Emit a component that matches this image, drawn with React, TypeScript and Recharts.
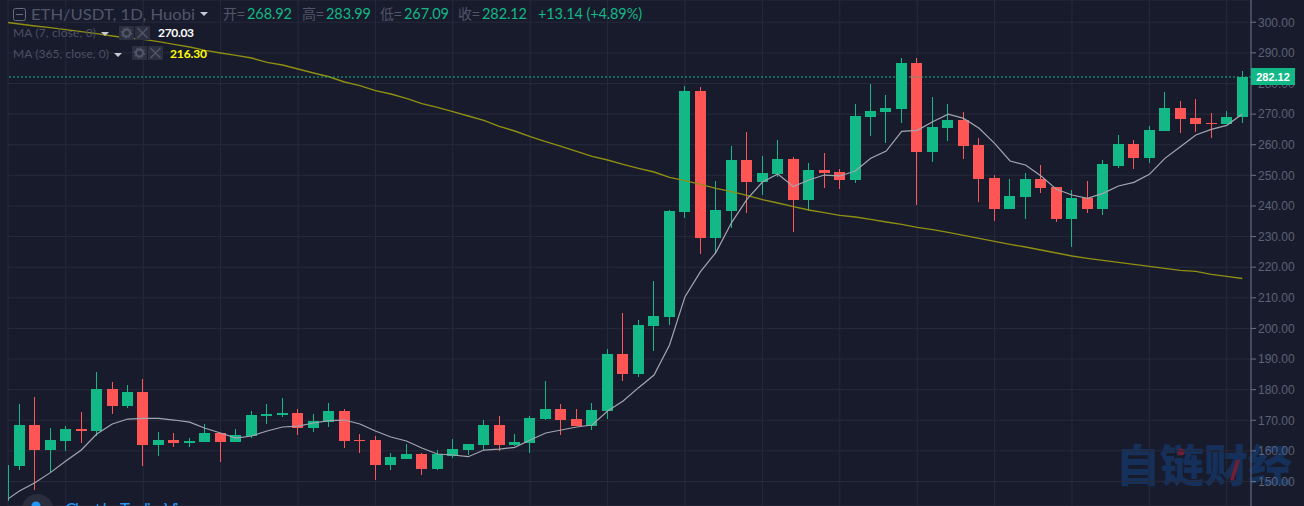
import React from "react";
import { ComposedChart, Bar, Line, XAxis, YAxis, CartesianGrid, ReferenceLine } from "recharts";

const openValues = [143.7,155.06,168.45,160.28,163.22,167.14,166.49,180.21,174.66,179.23,161.92,163.55,162.57,162.9,165.84,162.9,164.86,171.39,171.72,172.37,167.47,169.43,173.02,163.55,163.55,155.38,157.34,158.98,154.08,158.32,160.28,161.92,168.45,161.92,162.57,170.41,173.67,170.41,168.12,173.02,191.65,185.12,200.79,203.73,238.03,277.55,229.53,238.35,255.01,247.83,250.44,255.34,241.95,251.75,251.09,248.48,269.06,270.69,271.67,286.7,257.62,265.46,268.08,259.91,249.13,239,242.92,248.8,246.19,235.74,242.6,239,253.05,260.24,255.66,264.48,272,268.73,267.1,266.77,268.92];
const highValues = [155.4,175.3,177.6,167.47,168.12,172.7,185.76,182.5,181.5,183.47,166.16,165.84,164.2,168.78,165.84,167.14,173.02,175.3,177.27,173.67,172.04,175.63,173.67,165.5,164.86,159.3,162.24,159.3,160.28,163.88,162.24,170.08,171.39,165.51,171.39,182.82,175.31,173.67,175.63,193.28,205.04,202.75,215.49,238.68,279.18,278.86,248.15,259.59,264.16,256.32,261.55,255.99,254.03,257.3,252.07,273.3,279.84,276.24,288.33,288.33,275.59,273.3,270.69,262.2,250.11,248.8,250.76,253.38,246.19,245.21,248.15,255,263.18,261.54,266.12,277.22,274.28,274.93,270.36,271.02,283.99];
const lowValues = [143.7,153.75,147.2,153.1,159.96,162.57,164.86,172.04,174,155.06,158.32,161.26,161.26,162.9,156.36,162.9,164.2,168.78,171.06,165.18,166.16,167.8,160.94,159.3,150.48,153.75,157.34,152.12,153.75,157.67,158.65,160.28,159.96,161.59,159.3,170.08,165.18,168.12,166.82,170.41,182.83,184.13,192.63,201.12,236.07,224.31,224.31,232.8,237.7,243.58,249.46,231.5,238.35,245.87,245.54,247.5,262.85,260.57,267.1,240.31,254.36,261.22,255.34,241.29,235.08,239,235.74,244.23,234.76,226.59,237.7,237.04,252.4,252.07,254,264.48,263.83,264.16,262.2,266.77,267.09];
const closeValues = [155.4,168.45,160.28,163.55,167.14,166.49,180.21,174.66,179.23,161.92,163.55,162.57,163.22,165.84,162.9,165.18,171.7,172.04,172.37,167.47,169.75,173.02,163.22,163.22,155.38,157.99,158.98,154.08,158.98,160.61,162.24,168.45,161.92,162.9,170.73,173.67,170.08,168.12,173.35,191.65,185.12,201.12,204.06,238.36,277.55,229.53,238.68,255.01,247.83,250.77,255.34,241.95,251.75,250.77,248.48,269.38,271.02,272,286.7,257.62,265.79,268.08,259.58,248.8,239,243.25,248.8,245.86,235.74,242.6,239,253.7,260.24,255.66,264.81,272,268.4,266.77,266.77,269.06,282.12];
const ma7Values = [143.4,146.9,149.6,152.9,156.7,160.3,165.5,168.8,170.4,170.6,170.6,170.08,169.4,167.4,165.84,164.2,164.86,166.5,167.8,168.12,169.1,169.86,170.08,168.8,166.5,164.53,163.22,160.94,158.98,158.65,158.1,160.28,160.6,161.15,163.55,165.84,166.82,167.8,168.45,173,176.3,180.65,184.79,194.59,210.37,218.54,224.86,234.5,242.17,247.83,250.44,246.3,248.48,250.1,249.8,251.4,255.56,257.95,264.37,264.7,267.53,270,268.6,265.35,260.45,254.68,253.38,249.8,245.43,243.58,242.5,244.12,246.52,247.7,250.33,255.55,259.36,263.18,265.03,266.33,270.03];
const ma365Values = [300.1,299.43,298.78,298.23,297.58,296.93,296.27,295.51,294.86,294.42,293.66,292.79,291.92,290.83,289.96,289.2,288.33,286.91,286.04,284.73,283.43,282.2,280.49,279.29,277.66,276.57,275.16,273.41,272.2,270.8,269.38,267.97,266.01,264.48,262.63,261,259.48,257.84,256.21,255,253.6,252.29,251.09,249.35,248.26,247.06,245.76,244.67,243.47,242.06,240.97,239.77,238.68,237.81,236.94,236.39,235.63,234.76,234,233.02,232.26,231.39,230.41,229.43,228.45,227.47,226.59,225.61,224.63,223.65,222.89,222.24,221.59,220.93,220.28,219.63,218.97,218.65,217.67,217,216.3];
const priceTicks = [150,160,170,180,190,200,210,220,230,240,250,260,270,280,290,300];
const dayTicks = [4,9,14,19,24,29,34,39,44,49,54,59,64,69,74,79];
const lastPrice = 282.12;

const rows = closeValues.map((close, i) => ({
  i,
  open: openValues[i],
  high: highValues[i],
  low: lowValues[i],
  close,
  range: [lowValues[i], highValues[i]],
  ma7: ma7Values[i],
  ma365: ma365Values[i],
}));

const UP = "#12b886";
const DOWN = "#ff5555";
const BG = "#181b2c";
const GRID = "#262a3a";
const AXIS = "#6b7187";
const LABEL = "#5c6174";
const HEAD = "#50566a";
const HFONT = "Lato, 'Open Sans', sans-serif";
const CJK = "'Noto Sans CJK SC', sans-serif";

function Candle(props: any) {
  const { x, y, width, height, payload } = props;
  if (!payload || !height) return null;
  const u = height / (payload.high - payload.low);
  const top = Math.max(payload.open, payload.close);
  const bot = Math.min(payload.open, payload.close);
  const color = payload.close >= payload.open ? UP : DOWN;
  const left = Math.round(x);
  const w = Math.round(width);
  const bodyTop = Math.round(y + (payload.high - top) * u);
  const bodyH = Math.max(1, Math.round((top - bot) * u));
  return (
    <g shapeRendering="crispEdges">
      <rect x={left + Math.floor(w / 2)} y={y} width={1} height={height} fill={color} />
      <rect x={left} y={bodyTop} width={w} height={bodyH} fill={color} />
    </g>
  );
}

function Watermark() {
  return (
    <svg width={1304} height={506} style={{ position: "absolute", left: 0, top: 0, pointerEvents: "none" }}>
      <text x={1116} y={482} fontFamily={CJK} fontWeight={900} fontSize={44} fill="#15305a" textLength={176}>自链财经</text>
      <circle cx={1181} cy={452} r={3.5} fill="#6e1f33" />
      <path d="M1236 460l-6 20h4l6-20z" fill="#6e1f33" />
    </svg>
  );
}

function Overlay() {
  const Chip = ({ x, y, kind }: { x: number; y: number; kind: "gear" | "x" }) => (
    <g>
      <rect x={x} y={y} width={15} height={14} fill="#2b2f3e" />
      {kind === "gear" ? (
        <g>
          <circle cx={x + 7.5} cy={y + 7} r={3.6} fill="none" stroke="#50566a" strokeWidth={2.2} />
          <circle cx={x + 7.5} cy={y + 7} r={5.2} fill="none" stroke="#50566a" strokeWidth={1} strokeDasharray="2 2" />
        </g>
      ) : (
        <path d={`M${x + 2.5} ${y + 2}L${x + 12.5} ${y + 12}M${x + 12.5} ${y + 2}L${x + 2.5} ${y + 12}`} stroke="#50566a" strokeWidth={1.5} />
      )}
    </g>
  );
  const Arrow = ({ x, y }: { x: number; y: number }) => (
    <path d={`M${x} ${y}h8l-4 4z`} fill="#c8cad2" />
  );
  return (
    <svg width={1304} height={506} style={{ position: "absolute", left: 0, top: 0, pointerEvents: "none", overflow: "hidden" }}>
      {/* header */}
      <rect x={13.5} y={8.5} width={12} height={12} rx={2} fill="none" stroke="#666c80" />
      <path d="M16 14.5h7" stroke="#666c80" />
      <text x={31} y={20} fontFamily={HFONT} fontSize={15.5} fill={HEAD} textLength={164} lengthAdjust="spacingAndGlyphs">ETH/USDT, 1D, Huobi</text>
      <Arrow x={200} y={12} />
      <g fontFamily={HFONT} fontSize={14.5}>
        <text x={223} y={19} fontFamily={CJK} fontSize={14} fill={HEAD}>开=</text>
        <text x={247} y={19} fill={UP} textLength={45}>268.92</text>
        <text x={302} y={19} fontFamily={CJK} fontSize={14} fill={HEAD}>高=</text>
        <text x={326} y={19} fill={UP} textLength={45}>283.99</text>
        <text x={380} y={19} fontFamily={CJK} fontSize={14} fill={HEAD}>低=</text>
        <text x={404} y={19} fill={UP} textLength={45}>267.09</text>
        <text x={458} y={19} fontFamily={CJK} fontSize={14} fill={HEAD}>收=</text>
        <text x={482} y={19} fill={UP} textLength={45}>282.12</text>
        <text x={538} y={19} fill={UP} textLength={104}>+13.14 (+4.89%)</text>
      </g>
      {/* indicator legend */}
      <g fontFamily={HFONT} fontSize={12}>
        <text x={13} y={37} fill="#4b5064" textLength={83}>MA (7, close, 0)</text>
        <Arrow x={101} y={32} />
        <Chip x={119} y={26} kind="gear" />
        <Chip x={135} y={26} kind="x" />
        <text x={158} y={37} fill="#ffffff" fontWeight={700} textLength={36}>270.03</text>
        <text x={13} y={58} fill="#4b5064" textLength={96}>MA (365, close, 0)</text>
        <Arrow x={114} y={53} />
        <Chip x={132} y={46} kind="gear" />
        <Chip x={148} y={46} kind="x" />
        <text x={170} y={58} fill="#ffff00" fontWeight={700} textLength={37}>216.30</text>
      </g>
      {/* last price label */}
      <rect x={1251} y={68} width={44} height={17} fill={UP} />
      <text x={1273} y={80.5} textAnchor="middle" fontFamily="'Liberation Sans', sans-serif" fontWeight={700} fontSize={11} fill="#ffffff">282.12</text>
      {/* attribution, cut by the bottom edge */}
      <circle cx={37.5} cy={510} r={16} fill="#2a2e3c" />
      <circle cx={36} cy={506} r={4.5} fill="#2196f3" />
      <text x={65} y={516} fontFamily={HFONT} fontSize={17} fill="#2196f3" textLength={133}>Chart by TradingView</text>
    </svg>
  );
}

export default function App() {
  return (
    <div style={{ position: "absolute", left: 0, top: 0, width: 1304, height: 506, background: BG, overflow: "hidden" }}>
      <Watermark />
      <div style={{ position: "absolute", left: 0, top: 0 }}>
        <ComposedChart width={1304} height={506} data={rows} margin={{ top: 0, right: 0, bottom: 0, left: 8 }}>
          <CartesianGrid stroke={GRID} strokeWidth={1} />
          <XAxis dataKey="i" type="number" hide scale="linear" domain={[0.2649, 80.564]} allowDataOverflow ticks={dayTicks} interval={0} />
          <YAxis
            orientation="right"
            width={53}
            type="number"
            domain={[142, 307.27]}
            allowDataOverflow
            ticks={priceTicks}
            interval={0}
            tickFormatter={(v: number) => v.toFixed(2)}
            tick={{ fill: LABEL, fontSize: 12, fontFamily: "'Liberation Sans', sans-serif" }}
            tickSize={5}
            tickMargin={2}
            stroke={AXIS}
            tickLine={{ stroke: AXIS }}
            axisLine={{ stroke: AXIS }}
          />
          <Line dataKey="ma365" stroke="#8f8f12" strokeWidth={1.4} dot={false} isAnimationActive={false} type="linear" />
          <Line dataKey="ma7" stroke="#a3a6b0" strokeWidth={1.2} dot={false} isAnimationActive={false} type="linear" />
          <Bar dataKey="range" barSize={11} shape={<Candle />} isAnimationActive={false} />
          <ReferenceLine y={lastPrice} stroke={UP} strokeDasharray="2 2" strokeWidth={1} />
        </ComposedChart>
      </div>
      <Overlay />
    </div>
  );
}
